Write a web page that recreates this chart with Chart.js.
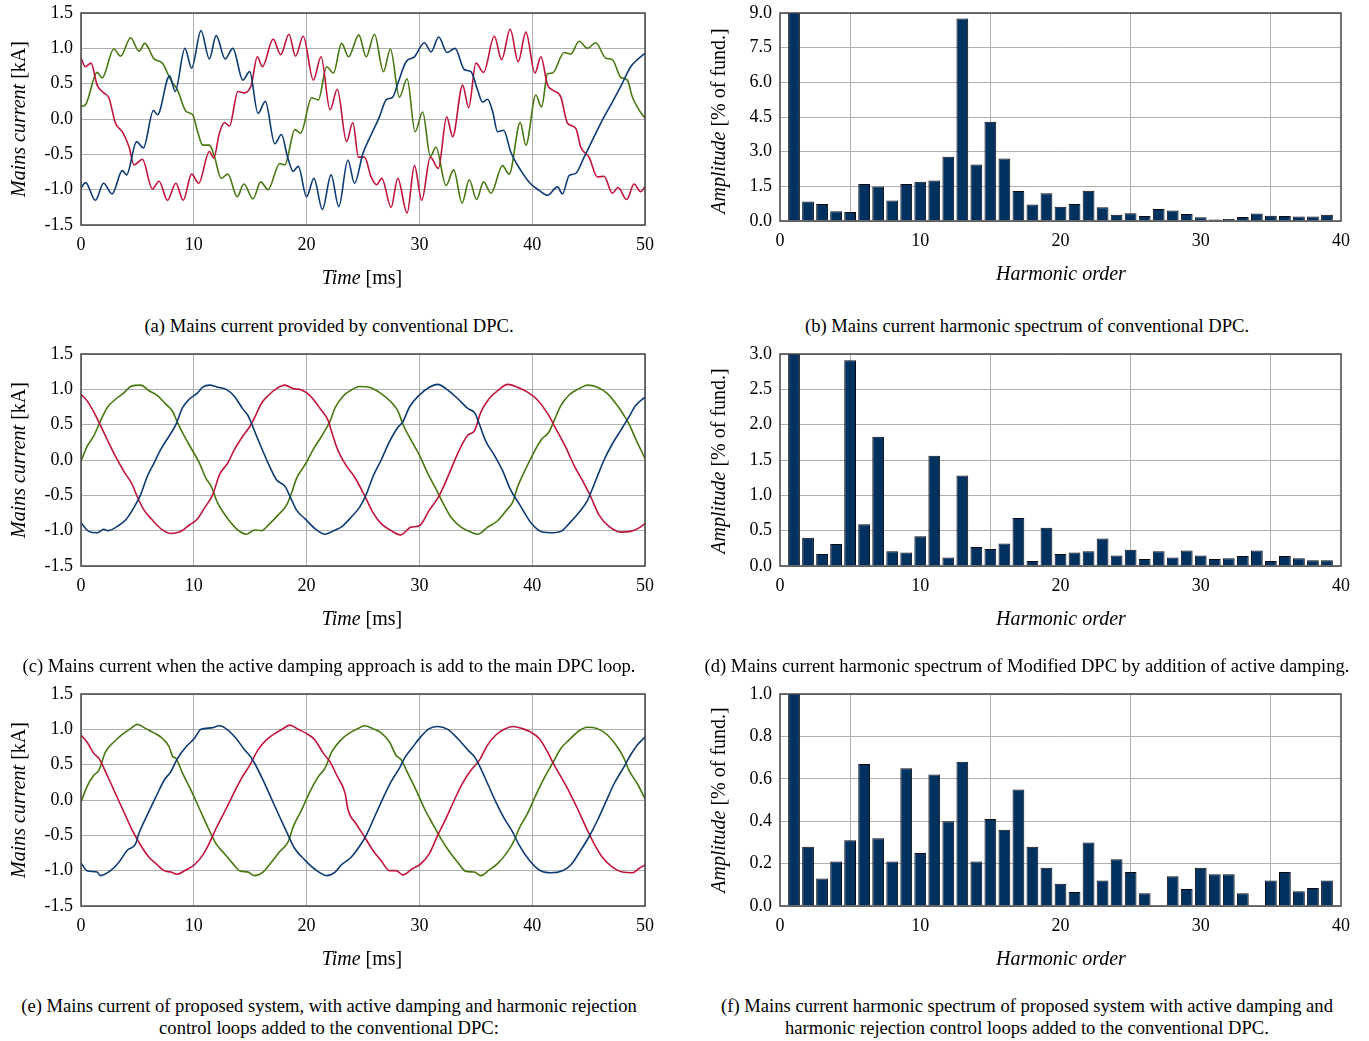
<!DOCTYPE html>
<html>
<head>
<meta charset="utf-8">
<script src="https://cdn.jsdelivr.net/npm/chart.js@4.4.1/dist/chart.umd.min.js"></script>
<style>
  body { margin: 0; background: #fff; width: 1369px; height: 1041px; position: relative; overflow: hidden;
         font-family: "Liberation Serif", "Times New Roman", serif; color: #000; }
  canvas.box { position: absolute; }
  .lbl { position: absolute; white-space: nowrap; transform: translate(-50%, -50%); font-size: 20px; }
  .ylbl { transform: translate(-50%, -50%) rotate(-90deg); }
  .cap { position: absolute; font-size: 18.6px; line-height: 22px; text-align: center; white-space: nowrap;
         transform: translate(-50%, -50%); }
</style>
</head>
<body>
<canvas id="chartA" class="box" style="left:0;top:0" width="660" height="300"></canvas>
<canvas id="chartB" class="box" style="left:700px;top:0" width="669" height="300"></canvas>
<canvas id="chartC" class="box" style="left:0;top:340px" width="660" height="300"></canvas>
<canvas id="chartD" class="box" style="left:700px;top:340px" width="669" height="300"></canvas>
<canvas id="chartE" class="box" style="left:0;top:680px" width="660" height="300"></canvas>
<canvas id="chartF" class="box" style="left:700px;top:680px" width="669" height="300"></canvas>

<div class="lbl ylbl" style="left:18px;top:119px"><i>Mains current</i> [kA]</div>
<div class="lbl ylbl" style="left:18px;top:460px"><i>Mains current</i> [kA]</div>
<div class="lbl ylbl" style="left:18px;top:800px"><i>Mains current</i> [kA]</div>
<div class="lbl ylbl" style="left:718px;top:121px"><i>Amplitude</i> [% of fund.]</div>
<div class="lbl ylbl" style="left:718px;top:461px"><i>Amplitude</i> [% of fund.]</div>
<div class="lbl ylbl" style="left:718px;top:800px"><i>Amplitude</i> [% of fund.]</div>

<div class="lbl" style="left:362px;top:277px"><i>Time</i> [ms]</div>
<div class="lbl" style="left:362px;top:618px"><i>Time</i> [ms]</div>
<div class="lbl" style="left:362px;top:958px"><i>Time</i> [ms]</div>
<div class="lbl" style="left:1061px;top:273px"><i>Harmonic order</i></div>
<div class="lbl" style="left:1061px;top:618px"><i>Harmonic order</i></div>
<div class="lbl" style="left:1061px;top:958px"><i>Harmonic order</i></div>

<div class="cap" style="left:329px;top:326px">(a) Mains current provided by conventional DPC.</div>
<div class="cap" style="left:1027px;top:326px">(b) Mains current harmonic spectrum of conventional DPC.</div>
<div class="cap" style="left:329px;top:666px">(c) Mains current when the active damping approach is add to the main DPC loop.</div>
<div class="cap" style="left:1027px;top:666px">(d) Mains current harmonic spectrum of Modified DPC by addition of active damping.</div>
<div class="cap" style="left:329px;top:1017px">(e) Mains current of proposed system, with active damping and harmonic rejection<br>control loops added to the conventional DPC:</div>
<div class="cap" style="left:1027px;top:1017px">(f) Mains current harmonic spectrum of proposed system with active damping and<br>harmonic rejection control loops added to the conventional DPC.</div>

<script>
// ---- time traces, [time in ms, current in kA] ----
var convBlue = [[0,-0.98],[0.4,-0.90],[1.28,-1.15],[2.0,-0.91],[2.76,-1.06],[3.66,-0.73],[4.04,-0.79],[4.93,-0.32],[5.53,-0.41],[6.42,0.12],[6.78,0.06],[7.85,0.61],[8.35,0.39],[9.21,1.00],[9.81,0.72],[10.64,1.25],[11.38,0.85],[11.98,1.18],[12.78,0.85],[13.46,1.0],[14.35,0.55],[14.95,0.67],[15.69,0.08],[16.34,0.25],[17.18,-0.35],[17.77,-0.22],[18.3,-0.53],[18.81,-0.74],[19.26,-0.67],[20.0,-1.10],[20.65,-0.84],[21.4,-1.28],[22.17,-0.79],[22.85,-1.24],[23.66,-0.58],[24.25,-0.91],[24.99,-0.49],[25.7,-0.23],[26.46,0.03],[27.05,0.27],[27.64,0.31],[28.08,0.50],[28.82,0.81],[29.56,0.88],[30.44,1.08],[31.03,0.95],[31.71,1.16],[32.45,0.94],[33.16,1.0],[33.98,0.70],[34.57,0.67],[35.16,0.41],[35.6,0.24],[36.05,0.28],[36.5,0.10],[36.93,-0.18],[37.46,-0.16],[38.11,-0.47],[39.0,-0.73],[39.88,-0.92],[40.62,-1.01],[41.36,-1.08],[42.24,-0.96],[42.68,-1.06],[43.27,-0.80],[43.86,-0.77],[44.6,-0.54],[45.49,-0.25],[46.37,0.03],[47.11,0.24],[47.85,0.46],[48.73,0.74],[49.32,0.84],[50,0.93]];
var convRed = [[0,0.86],[0.39,0.74],[0.89,0.79],[1.43,0.48],[2.02,0.37],[2.47,0.30],[3.06,-0.06],[3.66,-0.18],[4.25,-0.39],[4.7,-0.65],[5.44,-0.57],[6.33,-0.99],[6.92,-0.88],[7.67,-1.15],[8.41,-0.91],[9.06,-1.15],[9.81,-0.78],[10.43,-0.91],[11.38,-0.46],[11.77,-0.55],[12.27,-0.2],[12.72,-0.05],[13.16,-0.10],[13.91,0.39],[14.5,0.37],[15.1,0.48],[15.63,0.88],[16.08,0.74],[17.03,1.13],[17.71,0.91],[18.43,1.20],[19.02,0.89],[19.7,1.17],[20.6,0.55],[21.28,0.88],[22.08,0.13],[22.72,0.42],[23.54,-0.32],[24.1,-0.05],[24.6,-0.54],[25.13,-0.54],[25.72,-0.82],[26.2,-0.93],[26.67,-0.84],[27.49,-1.25],[28.08,-0.84],[28.91,-1.33],[29.56,-0.66],[30.21,-1.15],[30.97,-0.54],[31.68,-0.70],[32.42,0.03],[32.95,-0.25],[33.83,0.48],[34.37,0.16],[35.01,0.79],[35.69,0.66],[36.64,1.17],[37.29,0.84],[38.05,1.27],[38.76,0.81],[39.44,1.23],[40.24,0.65],[40.77,0.88],[41.36,0.48],[41.8,0.41],[42.54,0.31],[43.13,-0.06],[43.86,-0.13],[44.31,-0.40],[45.04,-0.54],[45.78,-0.82],[46.37,-0.81],[47.11,-1.05],[47.61,-0.97],[48.38,-1.14],[49.03,-0.92],[49.62,-1.03],[50,-0.96]];
var convGreen = [[0,0.18],[0.39,0.20],[1.43,0.66],[1.87,0.58],[2.91,0.99],[3.51,0.89],[4.4,1.15],[5.14,0.96],[5.65,1.07],[6.48,0.85],[7.22,0.79],[7.96,0.55],[8.56,0.41],[9.3,0.11],[9.9,0.06],[10.34,-0.18],[10.79,-0.37],[11.38,-0.37],[11.83,-0.53],[12.42,-0.84],[13.02,-0.78],[13.85,-1.10],[14.44,-0.92],[15.25,-1.13],[15.93,-0.89],[16.58,-1.0],[17.62,-0.63],[18.07,-0.65],[18.96,-0.15],[19.47,-0.20],[20.45,0.30],[21.04,0.27],[21.78,0.74],[22.38,0.65],[23.1,1.07],[23.72,0.88],[24.63,1.19],[25.28,0.88],[26.02,1.20],[26.81,0.67],[27.43,0.99],[28.23,0.31],[28.91,0.57],[29.62,-0.18],[30.29,0.10],[30.97,-0.53],[31.47,-0.40],[32.36,-0.94],[33.04,-0.72],[33.78,-1.19],[34.42,-0.86],[35.07,-1.14],[35.69,-0.89],[36.34,-1.05],[37.37,-0.66],[37.96,-0.78],[38.94,-0.05],[39.44,-0.37],[40.32,0.34],[40.83,0.17],[41.36,0.64],[41.8,0.65],[42.83,0.94],[43.42,0.92],[44.16,1.10],[44.9,1.0],[45.63,1.08],[46.52,0.86],[47.11,0.84],[47.85,0.59],[48.44,0.55],[48.88,0.31],[49.47,0.13],[50,0.01]];

var dampBlue = [[0,-0.89],[0.68,-1.01],[1.43,-1.03],[2.02,-0.98],[2.38,-1.0],[3.21,-0.94],[3.95,-0.85],[4.7,-0.67],[5.29,-0.49],[5.88,-0.23],[6.48,-0.04],[7.07,0.15],[7.82,0.34],[8.41,0.50],[9.0,0.74],[9.6,0.86],[10.34,0.95],[10.79,1.03],[11.38,1.06],[12.12,1.03],[12.87,1.0],[13.61,0.90],[14.35,0.72],[14.8,0.63],[15.16,0.50],[15.69,0.29],[16.58,-0.04],[17.33,-0.28],[18.07,-0.37],[18.66,-0.56],[19.11,-0.71],[19.85,-0.83],[20.74,-0.97],[21.63,-1.05],[22.53,-0.99],[23.07,-0.95],[23.95,-0.81],[24.69,-0.67],[25.28,-0.49],[25.87,-0.24],[26.61,0.0],[27.35,0.26],[28.08,0.46],[28.53,0.54],[29.12,0.75],[30.0,0.92],[30.88,1.03],[31.62,1.07],[32.51,0.99],[33.39,0.87],[34.28,0.73],[34.93,0.66],[35.31,0.51],[35.9,0.26],[36.64,0.07],[37.37,-0.15],[38.11,-0.43],[38.85,-0.62],[39.85,-0.88],[40.91,-1.02],[41.65,-1.03],[42.54,-1.01],[43.27,-0.90],[44.16,-0.74],[44.9,-0.57],[45.63,-0.29],[46.37,0.0],[47.11,0.23],[47.85,0.42],[48.58,0.61],[49.17,0.77],[50,0.89]];
var dampRed = [[0,0.93],[0.53,0.84],[1.13,0.68],[1.72,0.49],[2.32,0.29],[3.06,0.05],[3.8,-0.16],[4.55,-0.35],[4.99,-0.52],[5.59,-0.71],[6.33,-0.85],[7.22,-0.99],[7.96,-1.04],[8.71,-1.02],[9.6,-0.92],[10.34,-0.83],[10.94,-0.68],[11.68,-0.49],[12.27,-0.21],[13.02,-0.04],[13.61,0.15],[14.35,0.34],[14.95,0.47],[15.39,0.60],[15.99,0.80],[16.58,0.91],[17.33,1.01],[18.07,1.06],[18.81,1.01],[19.56,0.99],[20.3,0.91],[21.19,0.73],[21.93,0.55],[22.18,0.42],[22.77,0.14],[23.51,-0.08],[24.25,-0.24],[25.13,-0.50],[25.87,-0.74],[26.61,-0.90],[27.49,-1.0],[28.32,-1.06],[29.26,-0.95],[30.0,-0.93],[30.88,-0.71],[31.77,-0.50],[32.65,-0.19],[33.39,0.09],[34.28,0.35],[34.87,0.41],[35.46,0.68],[36.19,0.87],[37.08,1.0],[37.82,1.07],[38.7,1.03],[39.59,0.96],[40.47,0.85],[41.36,0.66],[42.24,0.40],[42.98,0.18],[43.72,-0.08],[44.45,-0.29],[45.19,-0.52],[45.93,-0.78],[46.81,-0.94],[47.85,-1.02],[48.73,-1.01],[49.47,-0.96],[50,-0.90]];
var dampGreen = [[0,-0.02],[0.53,0.19],[1.13,0.34],[1.72,0.55],[2.32,0.74],[3.06,0.86],[3.8,0.95],[4.4,1.04],[5.29,1.06],[6.03,0.98],[6.78,0.91],[7.52,0.79],[8.11,0.69],[8.56,0.53],[9.15,0.34],[9.75,0.17],[10.49,-0.04],[11.08,-0.26],[11.53,-0.37],[12.12,-0.61],[12.87,-0.80],[13.76,-0.97],[14.65,-1.05],[15.39,-0.99],[15.99,-1.0],[16.73,-0.90],[17.47,-0.78],[18.22,-0.64],[18.66,-0.47],[19.11,-0.26],[19.85,-0.07],[20.59,0.15],[21.34,0.34],[22.08,0.55],[22.53,0.74],[23.27,0.91],[23.95,0.99],[24.69,1.04],[25.57,1.03],[26.61,0.94],[27.49,0.82],[28.08,0.70],[28.53,0.51],[29.26,0.28],[30.0,0.07],[30.74,-0.19],[31.47,-0.41],[32.06,-0.60],[32.8,-0.81],[33.69,-0.95],[34.57,-1.02],[35.16,-1.05],[36.05,-0.95],[36.93,-0.86],[37.82,-0.69],[38.26,-0.60],[38.7,-0.38],[39.29,-0.17],[40.03,0.07],[40.77,0.28],[41.5,0.40],[41.95,0.56],[42.54,0.77],[43.27,0.92],[44.16,1.01],[44.9,1.06],[45.78,1.03],[46.67,0.94],[47.55,0.77],[48.14,0.63],[48.58,0.51],[49.17,0.30],[50,0.02]];

var propBlue = [[0,-0.89],[0.53,-1.0],[1.43,-1.02],[1.72,-1.07],[2.62,-1.0],[3.36,-0.88],[4.1,-0.71],[4.84,-0.62],[5.14,-0.47],[5.88,-0.21],[6.63,0.04],[7.37,0.28],[7.96,0.40],[8.56,0.59],[9.3,0.75],[10.04,0.87],[10.64,1.0],[11.53,1.02],[12.27,1.05],[13.02,0.99],[13.76,0.87],[14.5,0.71],[15.04,0.61],[15.39,0.52],[16.14,0.28],[16.88,0.02],[17.62,-0.24],[18.37,-0.50],[18.96,-0.69],[19.85,-0.85],[20.74,-0.98],[21.78,-1.07],[22.53,-1.02],[23.07,-0.92],[23.95,-0.81],[24.84,-0.62],[25.28,-0.50],[26.02,-0.24],[26.76,0.02],[27.49,0.26],[28.23,0.45],[28.67,0.59],[29.41,0.75],[30.15,0.90],[30.88,1.01],[31.62,1.04],[32.51,1.0],[33.39,0.87],[34.28,0.71],[34.93,0.60],[35.31,0.49],[36.05,0.23],[36.78,-0.03],[37.52,-0.26],[38.26,-0.45],[38.85,-0.64],[39.73,-0.85],[40.62,-0.99],[41.65,-1.03],[42.68,-1.0],[43.42,-0.92],[44.31,-0.71],[45.04,-0.52],[45.78,-0.29],[46.52,-0.03],[47.26,0.23],[48.14,0.47],[48.73,0.64],[49.32,0.78],[50,0.89]];
var propRed = [[0,0.92],[0.53,0.82],[1.13,0.66],[1.58,0.59],[2.32,0.35],[3.06,0.09],[3.8,-0.17],[4.55,-0.43],[5.29,-0.64],[6.03,-0.81],[6.78,-0.92],[7.37,-1.0],[7.96,-1.02],[8.5,-1.05],[9.3,-0.99],[10.04,-0.92],[10.79,-0.78],[11.38,-0.61],[11.98,-0.40],[12.72,-0.17],[13.46,0.07],[14.2,0.30],[14.95,0.49],[15.69,0.71],[16.43,0.85],[17.18,0.94],[17.92,1.01],[18.51,1.06],[19.26,1.0],[20.0,0.94],[20.74,0.85],[21.49,0.66],[22.08,0.54],[22.67,0.35],[23.42,0.09],[23.66,-0.13],[24.4,-0.34],[25.13,-0.52],[25.87,-0.71],[26.61,-0.86],[27.35,-1.0],[27.94,-1.0],[28.53,-1.06],[29.41,-0.97],[30.15,-0.90],[30.88,-0.76],[31.62,-0.50],[32.36,-0.26],[33.1,0.0],[33.83,0.24],[34.57,0.42],[35.31,0.56],[36.05,0.78],[36.78,0.92],[37.52,1.0],[38.26,1.04],[39.14,1.01],[39.88,0.96],[40.62,0.87],[41.36,0.68],[41.8,0.54],[42.54,0.33],[43.27,0.12],[44.01,-0.12],[44.75,-0.38],[45.49,-0.62],[46.22,-0.81],[47.11,-0.95],[47.99,-1.02],[48.88,-1.03],[49.47,-0.97],[50,-0.92]];
var propGreen = [[0,-0.03],[0.53,0.19],[1.13,0.35],[1.58,0.42],[2.17,0.68],[2.91,0.82],[3.66,0.93],[4.4,1.01],[4.99,1.07],[5.74,1.01],[6.48,0.95],[7.22,0.87],[7.82,0.75],[8.11,0.62],[8.41,0.59],[9.0,0.38],[9.75,0.14],[10.49,-0.12],[11.23,-0.38],[11.98,-0.62],[12.72,-0.76],[13.46,-0.90],[14.06,-1.0],[14.8,-1.02],[15.39,-1.07],[16.14,-1.02],[16.88,-0.88],[17.62,-0.73],[18.37,-0.59],[18.81,-0.38],[19.56,-0.14],[20.3,0.12],[21.04,0.33],[21.63,0.45],[22.23,0.68],[22.92,0.83],[23.81,0.95],[24.54,1.01],[25.13,1.05],[25.87,1.01],[26.61,0.95],[27.35,0.82],[27.94,0.63],[28.38,0.57],[28.97,0.38],[29.71,0.14],[30.44,-0.12],[31.18,-0.34],[31.92,-0.55],[32.65,-0.73],[33.39,-0.88],[34.13,-1.01],[34.87,-1.02],[35.46,-1.07],[36.19,-0.99],[36.93,-0.90],[37.82,-0.73],[38.41,-0.57],[38.85,-0.40],[39.59,-0.19],[40.32,0.07],[41.06,0.31],[41.8,0.52],[42.54,0.73],[43.27,0.85],[44.16,0.98],[44.9,1.03],[45.78,1.01],[46.67,0.92],[47.55,0.75],[48.14,0.59],[48.58,0.42],[49.32,0.23],[50,0.02]];

// ---- harmonic spectra, % of fundamental (order 1 is the fundamental, off scale) ----
var harmonicOrder = [1,2,3,4,5,6,7,8,9,10,11,12,13,14,15,16,17,18,19,20,21,22,23,24,25,26,27,28,29,30,31,32,33,34,35,36,37,38,39];
var convSpectrum = [100,0.84,0.74,0.42,0.39,1.60,1.49,0.89,1.60,1.70,1.75,2.78,8.76,2.44,4.29,2.70,1.30,0.71,1.20,0.62,0.74,1.31,0.59,0.27,0.33,0.22,0.52,0.45,0.30,0.16,0.07,0.09,0.17,0.32,0.23,0.22,0.19,0.19,0.27];
var dampSpectrum = [100,0.40,0.17,0.31,2.91,0.59,1.83,0.21,0.19,0.42,1.56,0.12,1.28,0.27,0.24,0.32,0.68,0.07,0.54,0.17,0.19,0.21,0.39,0.15,0.23,0.10,0.21,0.12,0.22,0.15,0.10,0.11,0.14,0.22,0.07,0.14,0.11,0.08,0.08];
var propSpectrum = [100,0.28,0.13,0.21,0.31,0.67,0.32,0.21,0.65,0.25,0.62,0.40,0.68,0.21,0.41,0.36,0.55,0.28,0.18,0.105,0.066,0.30,0.12,0.22,0.16,0.06,0,0.14,0.08,0.18,0.15,0.15,0.06,0,0.12,0.16,0.07,0.085,0.12];

Chart.defaults.font.family = "'Liberation Serif', 'Times New Roman', serif";
Chart.defaults.font.size = 18;
Chart.defaults.color = "#000";

var frame = {
  id: "frame",
  afterDatasetsDraw: function(chart) {
    var a = chart.chartArea, ctx = chart.ctx;
    ctx.save();
    ctx.strokeStyle = "#454545";
    ctx.lineWidth = 1.5;
    ctx.strokeRect(a.left, a.top, a.right - a.left, a.bottom - a.top);
    ctx.restore();
  }
};

// fixed axis boxes so the plot areas land where the figure has them
function fixX(h) { return function(s) { s.height = h; s.paddingLeft = 0; s.paddingRight = 0; }; }
function fixY(w) { return function(s) { s.width = w; s.paddingTop = 0; s.paddingBottom = 0; }; }

function trace(points, color) {
  return {
    data: points.map(function(p) { return {x: p[0], y: p[1]}; }),
    borderColor: color,
    borderWidth: 1.6,
    pointRadius: 0,
    showLine: true,
    cubicInterpolationMode: "monotone"
  };
}

function timeChart(id, padTop, xHeight, blue, red, green) {
  return new Chart(document.getElementById(id), {
    type: "scatter",
    data: { datasets: [trace(blue, "#0d3b73"), trace(red, "#c0143c"), trace(green, "#47780f")] },
    options: {
      responsive: false,
      animation: false,
      layout: { padding: { top: padTop, right: 15, left: 0, bottom: 0 } },
      plugins: { legend: { display: false }, tooltip: { enabled: false } },
      scales: {
        x: {
          min: 0, max: 50,
          ticks: { stepSize: 10, padding: 9, maxRotation: 0 },
          grid: { color: "#b0b0b0", drawTicks: false },
          border: { display: false },
          afterFit: fixX(xHeight)
        },
        y: {
          min: -1.5, max: 1.5,
          ticks: { stepSize: 0.5, padding: 8, callback: function(v) { return v.toFixed(1); } },
          grid: { color: "#b0b0b0", drawTicks: false },
          border: { display: false },
          afterFit: fixY(81)
        }
      }
    },
    plugins: [frame]
  });
}

function spectrumChart(id, values, yMax, yStep, padTop, xHeight) {
  return new Chart(document.getElementById(id), {
    type: "bar",
    data: {
      datasets: [{
        data: harmonicOrder.map(function(h, i) { return {x: h, y: values[i]}; }),
        backgroundColor: "#00315f",
        borderColor: "#0a0a14",
        borderWidth: 1,
        barPercentage: 0.84,
        categoryPercentage: 1
      }]
    },
    options: {
      responsive: false,
      animation: false,
      layout: { padding: { top: padTop, right: 28, left: 0, bottom: 0 } },
      plugins: { legend: { display: false }, tooltip: { enabled: false } },
      scales: {
        x: {
          type: "linear", offset: false,
          min: 0, max: 40,
          ticks: { stepSize: 10, padding: 9, maxRotation: 0 },
          grid: { color: "#b0b0b0", drawTicks: false },
          border: { display: false },
          afterFit: fixX(xHeight)
        },
        y: {
          min: 0, max: yMax,
          ticks: { stepSize: yStep, padding: 8, callback: function(v) { return v.toFixed(1); } },
          grid: { color: "#b0b0b0", drawTicks: false },
          border: { display: false },
          afterFit: fixY(80)
        }
      }
    },
    plugins: [frame]
  });
}

timeChart("chartA", 13, 75, convBlue, convRed, convGreen);
timeChart("chartC", 14, 74, dampBlue, dampRed, dampGreen);
timeChart("chartE", 14, 74, propBlue, propRed, propGreen);

spectrumChart("chartB", convSpectrum, 9, 1.5, 13, 79);
spectrumChart("chartD", dampSpectrum, 3, 0.5, 14, 74);
spectrumChart("chartF", propSpectrum, 1, 0.2, 14, 74);
</script>
</body>
</html>
